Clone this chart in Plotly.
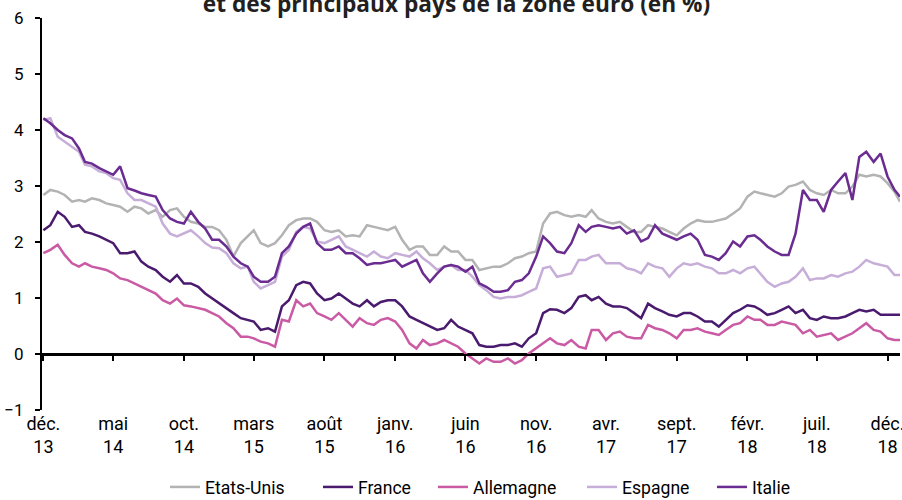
import plotly.graph_objects as go

dates = [
    "2013-12-01", "2013-12-16",
    "2014-01-01", "2014-01-16", "2014-02-01", "2014-02-16", "2014-03-01", "2014-03-16",
    "2014-04-01", "2014-04-16", "2014-05-01", "2014-05-16", "2014-06-01", "2014-06-16",
    "2014-07-01", "2014-07-16", "2014-08-01", "2014-08-16", "2014-09-01", "2014-09-16",
    "2014-10-01", "2014-10-16", "2014-11-01", "2014-11-16", "2014-12-01", "2014-12-16",
    "2015-01-01", "2015-01-16", "2015-02-01", "2015-02-16", "2015-03-01", "2015-03-16",
    "2015-04-01", "2015-04-16", "2015-05-01", "2015-05-16", "2015-06-01", "2015-06-16",
    "2015-07-01", "2015-07-16", "2015-08-01", "2015-08-16", "2015-09-01", "2015-09-16",
    "2015-10-01", "2015-10-16", "2015-11-01", "2015-11-16", "2015-12-01", "2015-12-16",
    "2016-01-01", "2016-01-16", "2016-02-01", "2016-02-16", "2016-03-01", "2016-03-16",
    "2016-04-01", "2016-04-16", "2016-05-01", "2016-05-16", "2016-06-01", "2016-06-16",
    "2016-07-01", "2016-07-16", "2016-08-01", "2016-08-16", "2016-09-01", "2016-09-16",
    "2016-10-01", "2016-10-16", "2016-11-01", "2016-11-16", "2016-12-01", "2016-12-16",
    "2017-01-01", "2017-01-16", "2017-02-01", "2017-02-16", "2017-03-01", "2017-03-16",
    "2017-04-01", "2017-04-16", "2017-05-01", "2017-05-16", "2017-06-01", "2017-06-16",
    "2017-07-01", "2017-07-16", "2017-08-01", "2017-08-16", "2017-09-01", "2017-09-16",
    "2017-10-01", "2017-10-16", "2017-11-01", "2017-11-16", "2017-12-01", "2017-12-16",
    "2018-01-01", "2018-01-16", "2018-02-01", "2018-02-16", "2018-03-01", "2018-03-16",
    "2018-04-01", "2018-04-16", "2018-05-01", "2018-05-16", "2018-06-01", "2018-06-16",
    "2018-07-01", "2018-07-16", "2018-08-01", "2018-08-16", "2018-09-01", "2018-09-16",
    "2018-10-01", "2018-10-16", "2018-11-01", "2018-11-16", "2018-12-01", "2018-12-16",
    "2018-12-28",
]

etats_unis = [
    2.84, 2.93, 2.90, 2.84, 2.72, 2.75, 2.72, 2.78, 2.75, 2.69, 2.66, 2.63, 2.54,
    2.63, 2.60, 2.51, 2.57, 2.45, 2.57, 2.60, 2.45, 2.36, 2.33, 2.27, 2.27,
    2.21, 2.04, 1.74, 1.98, 2.10, 2.21, 1.98, 1.92, 1.98, 2.12, 2.30, 2.39,
    2.42, 2.42, 2.36, 2.21, 2.18, 2.21, 2.10, 2.12, 2.10, 2.30, 2.27, 2.24,
    2.21, 2.27, 2.04, 1.86, 1.92, 1.92, 1.77, 1.77, 1.92, 1.83, 1.83, 1.68,
    1.68, 1.50, 1.53, 1.56, 1.56, 1.62, 1.71, 1.74, 1.80, 1.83, 2.33, 2.51,
    2.54, 2.48, 2.45, 2.48, 2.45, 2.57, 2.42, 2.36, 2.33, 2.36, 2.27, 2.18,
    2.18, 2.30, 2.27, 2.24, 2.18, 2.12, 2.24, 2.33, 2.39, 2.36, 2.36, 2.39,
    2.42, 2.51, 2.60, 2.81, 2.90, 2.87, 2.84, 2.81, 2.87, 2.99, 3.02, 3.08, 2.93,
    2.87, 2.84, 2.93, 2.87, 2.87, 2.99, 3.20, 3.17, 3.20, 3.17, 3.05, 2.90,
    2.72,
]

france = [
    2.21, 2.30, 2.54, 2.45, 2.27, 2.30, 2.18, 2.15, 2.10, 2.04, 1.98, 1.80, 1.80,
    1.83, 1.65, 1.56, 1.50, 1.38, 1.29, 1.41, 1.26, 1.26, 1.20, 1.08, 0.99,
    0.90, 0.82, 0.73, 0.64, 0.61, 0.58, 0.43, 0.46, 0.40, 0.85, 0.96, 1.23,
    1.29, 1.26, 1.08, 0.96, 0.99, 1.08, 0.99, 0.90, 0.85, 0.96, 0.85, 0.93,
    0.96, 0.96, 0.85, 0.67, 0.61, 0.55, 0.49, 0.43, 0.46, 0.61, 0.49, 0.43,
    0.37, 0.16, 0.13, 0.13, 0.16, 0.16, 0.19, 0.13, 0.28, 0.37, 0.73, 0.80,
    0.79, 0.73, 0.82, 1.02, 1.05, 0.96, 1.02, 0.90, 0.85, 0.85, 0.82, 0.73,
    0.64, 0.90, 0.82, 0.76, 0.70, 0.67, 0.73, 0.73, 0.67, 0.58, 0.58, 0.49,
    0.61, 0.73, 0.79, 0.87, 0.85, 0.79, 0.70, 0.73, 0.79, 0.85, 0.73, 0.79, 0.64,
    0.61, 0.67, 0.64, 0.64, 0.67, 0.73, 0.79, 0.76, 0.79, 0.70, 0.70, 0.70,
    0.70,
]

allemagne = [
    1.80, 1.86, 1.95, 1.77, 1.62, 1.56, 1.62, 1.56, 1.53, 1.50, 1.44, 1.35, 1.32,
    1.26, 1.20, 1.14, 1.08, 0.96, 0.90, 0.99, 0.87, 0.85, 0.82, 0.79, 0.73,
    0.67, 0.55, 0.46, 0.31, 0.31, 0.28, 0.22, 0.19, 0.13, 0.61, 0.58, 0.96,
    0.85, 0.90, 0.73, 0.67, 0.61, 0.73, 0.61, 0.49, 0.64, 0.55, 0.52, 0.61,
    0.64, 0.58, 0.43, 0.19, 0.10, 0.25, 0.16, 0.19, 0.25, 0.19, 0.13, 0.01,
    -0.08, -0.17, -0.08, -0.14, -0.14, -0.08, -0.17, -0.11, 0.01, 0.10, 0.19, 0.28,
    0.19, 0.16, 0.25, 0.13, 0.10, 0.43, 0.43, 0.25, 0.37, 0.40, 0.31, 0.28,
    0.28, 0.52, 0.46, 0.43, 0.37, 0.28, 0.43, 0.43, 0.46, 0.40, 0.37, 0.34,
    0.43, 0.52, 0.55, 0.67, 0.61, 0.61, 0.52, 0.52, 0.58, 0.55, 0.52, 0.37, 0.43,
    0.31, 0.34, 0.37, 0.25, 0.31, 0.37, 0.46, 0.55, 0.43, 0.40, 0.28, 0.25,
    0.25,
]

espagne = [
    4.18, 4.21, 3.88, 3.79, 3.70, 3.61, 3.38, 3.35, 3.26, 3.23, 3.14, 3.11, 2.87,
    2.75, 2.75, 2.69, 2.63, 2.33, 2.15, 2.10, 2.15, 2.21, 2.10, 1.98, 1.90,
    1.89, 1.80, 1.62, 1.53, 1.56, 1.29, 1.17, 1.23, 1.29, 1.74, 1.86, 2.18,
    2.27, 2.24, 2.01, 1.98, 2.04, 2.10, 1.92, 1.86, 1.80, 1.74, 1.83, 1.74,
    1.71, 1.80, 1.77, 1.74, 1.83, 1.71, 1.62, 1.50, 1.56, 1.59, 1.50, 1.50,
    1.38, 1.23, 1.14, 1.02, 0.99, 1.02, 1.02, 1.05, 1.11, 1.17, 1.53, 1.56,
    1.38, 1.41, 1.44, 1.68, 1.68, 1.74, 1.77, 1.62, 1.62, 1.62, 1.53, 1.50,
    1.44, 1.62, 1.56, 1.53, 1.38, 1.53, 1.62, 1.59, 1.62, 1.56, 1.53, 1.44,
    1.44, 1.50, 1.44, 1.53, 1.56, 1.44, 1.29, 1.20, 1.26, 1.29, 1.38, 1.53, 1.32,
    1.35, 1.35, 1.41, 1.38, 1.44, 1.47, 1.56, 1.68, 1.62, 1.59, 1.56, 1.41,
    1.41,
]

italie = [
    4.21, 4.12, 4.00, 3.91, 3.85, 3.67, 3.43, 3.40, 3.32, 3.26, 3.20, 3.35, 2.96,
    2.92, 2.87, 2.84, 2.81, 2.57, 2.42, 2.36, 2.33, 2.54, 2.36, 2.24, 2.04,
    2.04, 1.92, 1.74, 1.62, 1.56, 1.38, 1.29, 1.29, 1.38, 1.80, 1.92, 2.15,
    2.27, 2.33, 1.98, 1.86, 1.86, 1.92, 1.80, 1.80, 1.71, 1.59, 1.62, 1.62,
    1.65, 1.68, 1.56, 1.62, 1.68, 1.44, 1.29, 1.44, 1.56, 1.59, 1.56, 1.47,
    1.56, 1.26, 1.20, 1.11, 1.11, 1.14, 1.29, 1.32, 1.44, 1.74, 2.10, 1.98,
    1.83, 1.80, 1.98, 2.30, 2.18, 2.27, 2.30, 2.27, 2.24, 2.27, 2.15, 2.21,
    2.01, 2.07, 2.30, 2.15, 2.10, 2.04, 2.10, 2.15, 2.04, 1.77, 1.74, 1.68,
    1.80, 2.01, 1.92, 2.10, 2.12, 2.04, 1.92, 1.83, 1.77, 1.77, 2.15, 2.93, 2.75,
    2.75, 2.54, 2.93, 3.08, 3.23, 2.75, 3.52, 3.61, 3.43, 3.58, 3.17, 2.93,
    2.81,
]

tick_dates = [
    "2013-12-01", "2014-05-01", "2014-10-01", "2015-03-01", "2015-08-01",
    "2016-01-01", "2016-06-01", "2016-11-01", "2017-04-01", "2017-09-01",
    "2018-02-01", "2018-07-01", "2018-12-01",
]
tick_labels = [
    "déc.<br>13", "mai<br>14", "oct.<br>14", "mars<br>15", "août<br>15",
    "janv.<br>16", "juin<br>16", "nov.<br>16", "avr.<br>17", "sept.<br>17",
    "févr.<br>18", "juil.<br>18", "déc.<br>18",
]
y_ticks = [-1, 0, 1, 2, 3, 4, 5, 6]
y_min, y_max = -1, 6

series = [
    ("Etats-Unis", etats_unis, "#B3B3B3"),
    ("France", france, "#4A1A6E"),
    ("Allemagne", allemagne, "#C95AA3"),
    ("Espagne", espagne, "#C6AED8"),
    ("Italie", italie, "#6A2C91"),
]

FONT = "Roboto"
x_range = ["2013-11-28", "2018-12-28"]
W, H, ML, MR = 902, 500, 42, 2
PW = W - ML - MR

# legend entry origins (px), one legend per series
legend_px = [165, 318, 433, 582, 712]
legend_names = ["legend", "legend2", "legend3", "legend4", "legend5"]

fig = go.Figure()
for (name, vals, col), lg in zip(series, legend_names):
    fig.add_trace(go.Scatter(
        x=dates, y=vals, name=name, mode="lines",
        line=dict(color=col, width=2.5), legend=lg,
    ))

# transparent carrier trace on the helper axis, so that the x axis can
# sit on the zero level (helper axis domain starts where y = 0 falls)
fig.add_trace(go.Scatter(
    x=dates, y=etats_unis, yaxis="y2", mode="lines",
    line=dict(width=0, color="rgba(0,0,0,0)"), opacity=0,
    showlegend=False, hoverinfo="skip",
))
zero_frac = (0 - y_min) / (y_max - y_min)

layout_legends = {}
for lg, px in zip(legend_names, legend_px):
    layout_legends[lg] = dict(
        orientation="h", x=(px - ML) / PW, xanchor="left",
        yref="container", y=1 - 487 / H, yanchor="middle",
        bgcolor="rgba(0,0,0,0)",
        font=dict(family=FONT, size=17.6, color="black"),
    )

fig.update_layout(
    width=W, height=H,
    margin=dict(l=ML, r=MR, t=18, b=90),
    paper_bgcolor="white", plot_bgcolor="rgba(0,0,0,0)",
    font=dict(family=FONT, size=17, color="black"),
    showlegend=True,
    **layout_legends,
    title=dict(
        text="<b>et des principaux pays de la zone euro (en %)</b>",
        xref="container", yref="container", x=456.5 / W, y=0.991,
        xanchor="center", yanchor="middle",
        font=dict(family="Open Sans", size=22.7, color="#231F20"),
    ),
    xaxis=dict(
        type="date", range=x_range, showgrid=False, zeroline=False,
        anchor="y2", automargin=False,
        showline=True, linecolor="black", linewidth=2,
        ticks="outside", ticklen=5, tickwidth=2, tickcolor="black",
        tickmode="array", tickvals=tick_dates, ticktext=tick_labels,
        ticklabelstandoff=47, ticklabeloverflow="allow",
        tickfont=dict(family=FONT, size=18, color="black"),
    ),
    yaxis=dict(
        range=[y_min, y_max], tickmode="array", tickvals=y_ticks,
        automargin=False, anchor="x",
        showgrid=False, zeroline=True, zerolinecolor="black", zerolinewidth=2,
        showline=True, linecolor="black", linewidth=2, ticks="outside",
        ticklen=5, tickwidth=2, tickcolor="black", ticklabelstandoff=8,
        tickfont=dict(family=FONT, size=17, color="black"),
    ),
    yaxis2=dict(
        domain=[zero_frac, 1], anchor="x", range=[0, y_max],
        showgrid=False, zeroline=False, showline=False, ticks="",
        showticklabels=False, automargin=False,
    ),
)

fig.write_html(
    "out.html",
    config={"displayModeBar": False},
    post_script="document.body.style.margin='0';",
)
